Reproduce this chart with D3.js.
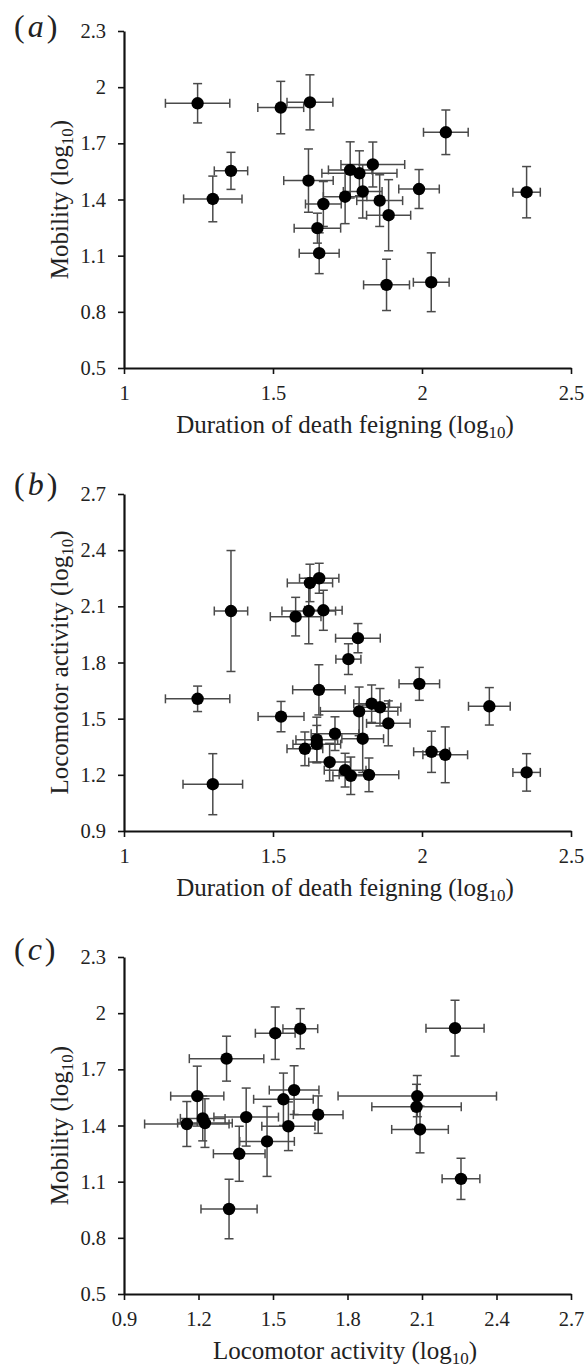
<!DOCTYPE html>
<html>
<head>
<meta charset="utf-8">
<script src="https://cdnjs.cloudflare.com/ajax/libs/d3/7.8.5/d3.min.js"></script>
<style>
body { margin: 0; background: #fff; }
svg text { font-family: "Liberation Serif", "Times New Roman", serif; fill: #222; }
</style>
</head>
<body>
<div id="chart"></div>
<script>

// (a) mobility vs duration of death feigning
var aDeath    = [1.247,1.526,1.624,1.359,1.298,2.080,2.351,1.619,1.835,1.759,1.790,1.801,1.742,1.858,1.888,1.669,1.649,1.655,1.881,2.031,1.990];
var aDeathErr = [0.108,0.077,0.077,0.056,0.098,0.075,0.046,0.083,0.107,0.073,0.126,0.065,0.073,0.077,0.074,0.060,0.078,0.067,0.077,0.060,0.068];
var aMob      = [1.914,1.891,1.919,1.553,1.403,1.759,1.439,1.501,1.587,1.558,1.540,1.443,1.415,1.394,1.316,1.376,1.247,1.113,0.944,0.958,1.456];
var aMobErr   = [0.105,0.140,0.147,0.099,0.122,0.119,0.137,0.169,0.120,0.150,0.120,0.142,0.144,0.138,0.190,0.120,0.080,0.109,0.137,0.157,0.104];

// (b) locomotor activity vs duration of death feigning
var bDeath    = [1.359,1.247,1.298,1.527,1.576,1.624,1.655,1.620,1.669,1.785,1.753,1.991,2.226,1.654,1.789,1.831,1.859,1.887,1.708,1.647,1.647,1.607,1.801,1.690,1.742,1.761,1.822,2.032,2.078,2.351];
var bDeathErr = [0.056,0.108,0.100,0.077,0.085,0.076,0.066,0.090,0.063,0.075,0.042,0.068,0.070,0.088,0.130,0.060,0.070,0.073,0.080,0.070,0.080,0.060,0.070,0.070,0.070,0.060,0.100,0.060,0.075,0.046];
var bLoco     = [2.075,1.606,1.150,1.511,2.045,2.225,2.250,2.075,2.079,1.930,1.818,1.686,1.566,1.654,1.539,1.580,1.561,1.475,1.420,1.388,1.364,1.339,1.393,1.268,1.225,1.195,1.200,1.323,1.307,1.213];
var bLocoErr  = [0.323,0.068,0.163,0.081,0.103,0.100,0.080,0.175,0.107,0.078,0.082,0.088,0.100,0.134,0.130,0.100,0.100,0.120,0.090,0.120,0.100,0.090,0.180,0.100,0.090,0.100,0.090,0.110,0.149,0.100];

// (c) mobility vs locomotor activity
var cLoco     = [1.153,1.195,1.217,1.226,1.313,1.509,1.392,1.364,1.323,1.476,1.542,1.562,1.585,1.610,2.233,2.257,2.081,2.078,2.092,1.682];
var cLocoErr  = [0.170,0.107,0.090,0.110,0.150,0.080,0.130,0.104,0.113,0.110,0.120,0.107,0.100,0.070,0.117,0.076,0.319,0.180,0.114,0.100];
var cMob      = [1.408,1.557,1.438,1.413,1.757,1.893,1.445,1.249,0.954,1.315,1.540,1.396,1.589,1.917,1.920,1.115,1.557,1.500,1.379,1.458];
var cMobErr   = [0.120,0.160,0.120,0.130,0.120,0.140,0.155,0.147,0.159,0.187,0.140,0.130,0.130,0.107,0.149,0.110,0.110,0.120,0.125,0.100];

// tick labels
var deathTicks = [1, 1.5, 2, 2.5];
var mobTicks   = [0.5, 0.8, 1.1, 1.4, 1.7, 2, 2.3];
var locoTicks  = [0.9, 1.2, 1.5, 1.8, 2.1, 2.4, 2.7];

var W = 587, H = 1370;
var plotLeft = 124, plotRight = 571, plotH = 337;
var capHalf = 4.5;
var serif = '"Liberation Serif", "Times New Roman", serif';

var svg = d3.select("#chart").append("svg")
    .attr("width", W)
    .attr("height", H);

function addLogTitle(sel, main) {
    sel.append("tspan").text(main + " (log");
    sel.append("tspan").attr("font-size", 17).attr("dy", 5).text("10");
    sel.append("tspan").attr("dy", -5).text(")");
}

function drawPanel(top, letter, letterY, xs, xe, ys, ye, xTicks, yTicks, xTitle, yTitle) {

    var g = svg.append("g");

    var x = d3.scaleLinear().domain([xTicks[0], xTicks[xTicks.length-1]]).range([plotLeft, plotRight]);
    var y = d3.scaleLinear().domain([yTicks[0], yTicks[yTicks.length-1]]).range([top + plotH, top]);

    var pts = xs.map(function(d, i) { return {x: d, xe: xe[i], y: ys[i], ye: ye[i]}; });

    // error bars
    var bars = g.append("g")
        .attr("stroke", "#4a4a4a")
        .attr("stroke-width", 1.5)
        .attr("fill", "none");

    pts.forEach(function(d) {
        var cx = x(d.x), cy = y(d.y);
        var x0 = x(d.x - d.xe), x1 = x(d.x + d.xe);
        var y0 = y(d.y - d.ye), y1 = y(d.y + d.ye);
        bars.append("line").attr("x1", x0).attr("x2", x1).attr("y1", cy).attr("y2", cy);
        bars.append("line").attr("x1", x0).attr("x2", x0).attr("y1", cy - capHalf).attr("y2", cy + capHalf);
        bars.append("line").attr("x1", x1).attr("x2", x1).attr("y1", cy - capHalf).attr("y2", cy + capHalf);
        bars.append("line").attr("x1", cx).attr("x2", cx).attr("y1", y0).attr("y2", y1);
        bars.append("line").attr("x1", cx - capHalf).attr("x2", cx + capHalf).attr("y1", y0).attr("y2", y0);
        bars.append("line").attr("x1", cx - capHalf).attr("x2", cx + capHalf).attr("y1", y1).attr("y2", y1);
    });

    // the points
    g.append("g").selectAll("circle")
        .data(pts)
        .enter().append("circle")
        .attr("cx", function(d) { return x(d.x); })
        .attr("cy", function(d) { return y(d.y); })
        .attr("r", 6.2)
        .style("fill", "#000");

    var fmt = function(d) { return String(d); };

    // axes
    var xAxis = g.append("g")
        .attr("transform", "translate(0," + (top + plotH) + ")")
        .call(d3.axisBottom(x).tickValues(xTicks).tickSize(6).tickSizeOuter(0).tickPadding(11).tickFormat(fmt));

    var yAxis = g.append("g")
        .attr("transform", "translate(" + plotLeft + ",0)")
        .call(d3.axisLeft(y).tickValues(yTicks).tickSize(6).tickSizeOuter(0).tickPadding(12).tickFormat(fmt));

    [xAxis, yAxis].forEach(function(a) {
        a.attr("font-family", serif).attr("font-size", 20.5);
        a.select(".domain").attr("stroke", "#111").attr("stroke-width", 2.2);
        a.selectAll(".tick line").attr("stroke", "#111").attr("stroke-width", 1.6);
        a.selectAll(".tick text")
            .style("font-family", serif)
            .style("font-size", "20.5px")
            .attr("fill", "#222");
    });

    // axis titles
    var xt = g.append("text")
        .attr("x", 345)
        .attr("y", top + plotH + 65)
        .style("text-anchor", "middle")
        .style("font-size", "25px");
    addLogTitle(xt, xTitle);

    var yt = g.append("text")
        .attr("transform", "translate(68," + (top + plotH / 2) + ") rotate(-90)")
        .style("text-anchor", "middle")
        .style("font-size", "25px");
    addLogTitle(yt, yTitle);

    // panel letter
    var lt = g.append("text")
        .attr("x", 14)
        .attr("y", letterY)
        .style("font-size", "32px")
        .style("letter-spacing", "3px");
    lt.append("tspan").text("(");
    lt.append("tspan").style("font-style", "italic").text(letter);
    lt.append("tspan").text(")");
}

drawPanel(31, "a", 37, aDeath, aDeathErr, aMob, aMobErr, deathTicks, mobTicks,
    "Duration of death feigning", "Mobility");
drawPanel(494, "b", 495, bDeath, bDeathErr, bLoco, bLocoErr, deathTicks, locoTicks,
    "Duration of death feigning", "Locomotor activity");
drawPanel(957, "c", 960, cLoco, cLocoErr, cMob, cMobErr, locoTicks, mobTicks,
    "Locomotor activity", "Mobility");

</script>
</body>
</html>
